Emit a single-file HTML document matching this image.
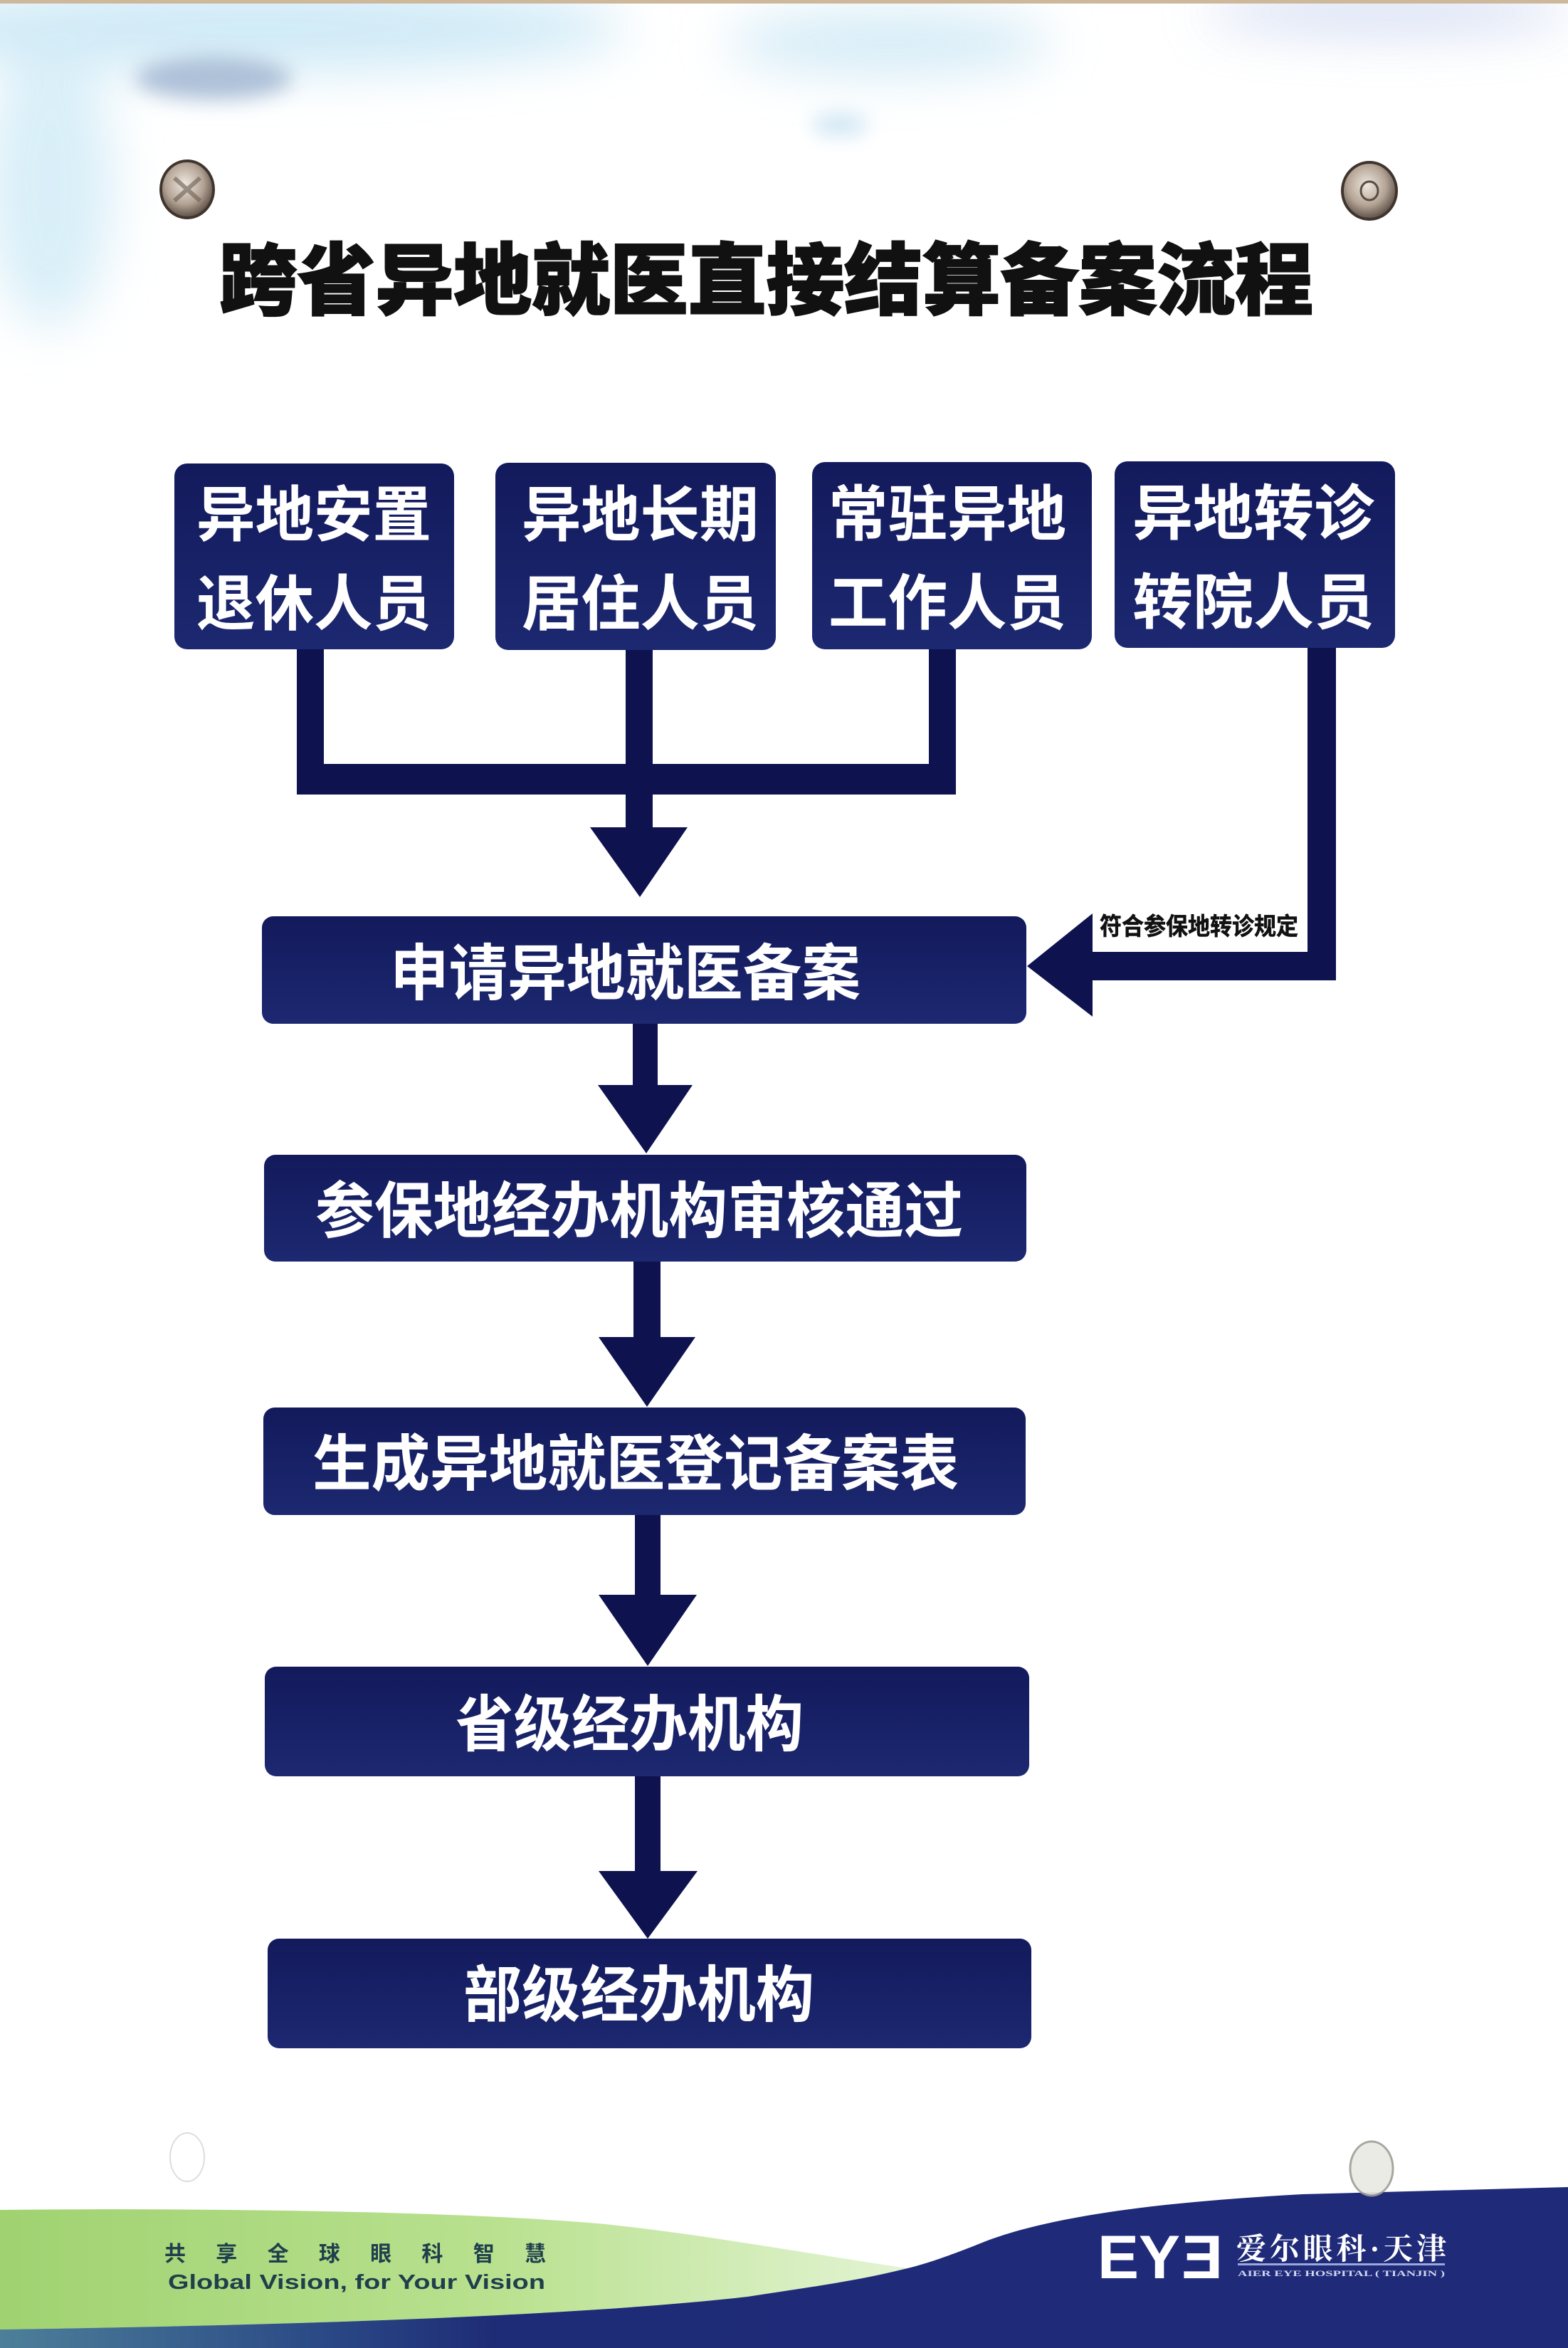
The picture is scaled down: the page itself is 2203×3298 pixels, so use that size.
<!DOCTYPE html>
<html><head><meta charset="utf-8"><style>
html,body{margin:0;padding:0;background:#fff;}
svg{display:block;}
</style></head><body>
<svg width="2203" height="3298" viewBox="0 0 2203 3298" xmlns="http://www.w3.org/2000/svg">
<defs>
  <filter id="bb" x="-50%" y="-50%" width="200%" height="200%"><feGaussianBlur stdDeviation="35"/></filter>
  <filter id="bs" x="-50%" y="-50%" width="200%" height="200%"><feGaussianBlur stdDeviation="14"/></filter>
  <linearGradient id="boxg" x1="0" y1="0" x2="0" y2="1">
    <stop offset="0" stop-color="#131a5c"/><stop offset="1" stop-color="#1c2870"/>
  </linearGradient>
  <linearGradient id="greeng" x1="0" y1="0" x2="1" y2="0">
    <stop offset="0" stop-color="#a0d271"/><stop offset="0.55" stop-color="#b9e18f"/><stop offset="1" stop-color="#e3f4d3"/>
  </linearGradient>
  <linearGradient id="navyg" x1="0" y1="0" x2="1" y2="0">
    <stop offset="0" stop-color="#4d7f99"/><stop offset="0.35" stop-color="#2b4a86"/><stop offset="0.55" stop-color="#1e2b76"/><stop offset="1" stop-color="#1f2b78"/>
  </linearGradient>
  <radialGradient id="screw" cx="0.45" cy="0.4" r="0.6">
    <stop offset="0" stop-color="#efe7de"/><stop offset="0.6" stop-color="#b3a395"/><stop offset="1" stop-color="#5b4e44"/>
  </radialGradient>
</defs>

<!-- background smudges -->
<rect x="0" y="0" width="2203" height="3298" fill="#ffffff"/>
<g filter="url(#bb)" opacity="0.85">
  <ellipse cx="360" cy="40" rx="520" ry="60" fill="#c6e6f5"/>
  <ellipse cx="1250" cy="60" rx="230" ry="45" fill="#cde8f5"/>
  <ellipse cx="70" cy="260" rx="90" ry="200" fill="#d3ecf7"/>
  <ellipse cx="1950" cy="18" rx="260" ry="28" fill="#cad6f0"/>
</g>
<g filter="url(#bs)" opacity="0.8">
  <ellipse cx="300" cy="110" rx="110" ry="30" fill="#9db2cf"/>
  <ellipse cx="1180" cy="175" rx="40" ry="14" fill="#bcdcf0"/>
</g>
<rect x="0" y="0" width="2203" height="5" fill="#cdb89b"/>

<!-- screws -->
<g>
  <ellipse cx="263" cy="266" rx="37" ry="40" fill="url(#screw)" stroke="#3f352e" stroke-width="4"/>
  <path d="M245 250 L281 282 M281 250 L245 282" stroke="#6b5c50" stroke-width="6" opacity="0.6"/>
  <ellipse cx="1924" cy="268" rx="38" ry="40" fill="url(#screw)" stroke="#3f352e" stroke-width="4"/>
  <ellipse cx="1924" cy="268" rx="12" ry="13" fill="none" stroke="#5a4d43" stroke-width="3"/>
</g>

<!-- title -->
<text x="308" y="433" textLength="1537" lengthAdjust="spacingAndGlyphs" font-size="110" font-weight="900" fill="#111" stroke="#111" stroke-width="2" font-family="'Liberation Sans','Noto Sans CJK SC',sans-serif">跨省异地就医直接结算备案流程</text>

<!-- connectors top -->
<g fill="#0e1350">
  <rect x="417" y="900" width="38" height="216"/>
  <rect x="879" y="900" width="38" height="262"/>
  <rect x="1305" y="900" width="38" height="216"/>
  <rect x="417" y="1073" width="926" height="43"/>
  <polygon points="829,1162 966,1162 899,1260"/>
  <rect x="1837" y="900" width="40" height="477"/>
  <rect x="1530" y="1337" width="347" height="40"/>
  <polygon points="1443,1357 1535,1283 1535,1428"/>
  <!-- down arrows -->
  <rect x="889" y="1430" width="35" height="96"/>
  <polygon points="840,1524 973,1524 908,1620"/>
  <rect x="890" y="1765" width="38" height="115"/>
  <polygon points="841,1878 977,1878 909,1976"/>
  <rect x="892" y="2120" width="36" height="122"/>
  <polygon points="841,2240 979,2240 910,2340"/>
  <rect x="892" y="2488" width="36" height="142"/>
  <polygon points="841,2628 980,2628 910,2723"/>
</g>

<!-- top boxes -->
<g fill="url(#boxg)">
  <rect x="245" y="651" width="393" height="261" rx="18"/>
  <rect x="696" y="650" width="394" height="263" rx="18"/>
  <rect x="1141" y="649" width="393" height="263" rx="18"/>
  <rect x="1566" y="648" width="394" height="262" rx="18"/>
</g>
<g fill="#ffffff" font-size="85" font-weight="700" font-family="'Liberation Sans','Noto Sans CJK SC',sans-serif">
  <text x="276" y="753" textLength="330" lengthAdjust="spacingAndGlyphs">异地安置</text>
  <text x="276" y="878" textLength="330" lengthAdjust="spacingAndGlyphs">退休人员</text>
  <text x="733" y="753" textLength="333" lengthAdjust="spacingAndGlyphs">异地长期</text>
  <text x="733" y="878" textLength="333" lengthAdjust="spacingAndGlyphs">居住人员</text>
  <text x="1164" y="752" textLength="334" lengthAdjust="spacingAndGlyphs">常驻异地</text>
  <text x="1164" y="877" textLength="334" lengthAdjust="spacingAndGlyphs">工作人员</text>
  <text x="1591" y="751" textLength="340" lengthAdjust="spacingAndGlyphs">异地转诊</text>
  <text x="1591" y="876" textLength="340" lengthAdjust="spacingAndGlyphs">转院人员</text>
</g>

<!-- side label -->
<text x="1545" y="1313" textLength="279" lengthAdjust="spacingAndGlyphs" font-size="34" font-weight="700" fill="#111" stroke="#111" stroke-width="0.6" font-family="'Liberation Sans','Noto Sans CJK SC',sans-serif">符合参保地转诊规定</text>

<!-- main boxes -->
<g fill="url(#boxg)">
  <rect x="368" y="1287" width="1074" height="151" rx="16"/>
  <rect x="371" y="1622" width="1071" height="150" rx="16"/>
  <rect x="370" y="1977" width="1071" height="151" rx="16"/>
  <rect x="372" y="2341" width="1074" height="154" rx="16"/>
  <rect x="376" y="2723" width="1073" height="154" rx="16"/>
</g>
<g fill="#ffffff" font-size="86" font-weight="700" font-family="'Liberation Sans','Noto Sans CJK SC',sans-serif">
  <text x="548" y="1397" textLength="661" lengthAdjust="spacingAndGlyphs">申请异地就医备案</text>
  <text x="443" y="1731" textLength="910" lengthAdjust="spacingAndGlyphs">参保地经办机构审核通过</text>
  <text x="439" y="2086" textLength="908" lengthAdjust="spacingAndGlyphs">生成异地就医登记备案表</text>
  <text x="640" y="2452" textLength="489" lengthAdjust="spacingAndGlyphs">省级经办机构</text>
  <text x="651" y="2832" textLength="493" lengthAdjust="spacingAndGlyphs">部级经办机构</text>
</g>

<!-- footer -->
<path d="M0 3104 C300 3101 650 3106 850 3124 C1000 3140 1150 3168 1275 3186 C1200 3205 1120 3215 1050 3226 C800 3254 400 3266 0 3272 Z" fill="url(#greeng)"/>
<path d="M2203 3072 L1830 3082 C1650 3092 1480 3110 1380 3150 C1330 3170 1300 3180 1275 3186 L1275 3298 L2203 3298 Z" fill="#1f2b78"/>
<path d="M1275 3186 C1200 3205 1120 3215 1050 3226 C800 3254 400 3266 0 3272 L0 3298 L1275 3298 Z" fill="url(#navyg)"/>

<text x="231" y="3176" textLength="536" font-size="30" font-weight="700" fill="#1f3f4c" font-family="'Liberation Sans','Noto Sans CJK SC',sans-serif">共享全球眼科智慧</text>
<text x="236" y="3215" textLength="530" lengthAdjust="spacingAndGlyphs" font-size="29" font-weight="700" fill="#1f3f4c" font-family="'Liberation Sans Narrow','Liberation Sans',sans-serif">Global Vision,  for Your Vision</text>

<text x="1542" y="3200" textLength="116" lengthAdjust="spacingAndGlyphs" font-size="86" font-weight="700" fill="#ffffff" font-family="'Liberation Sans',sans-serif">EY</text>
<text x="1654" y="3200" transform="translate(3372,0) scale(-1,1)" textLength="58" lengthAdjust="spacingAndGlyphs" font-size="86" font-weight="700" fill="#ffffff" font-family="'Liberation Sans',sans-serif">E</text>
<text x="1737" y="3173" textLength="295" font-size="42" font-weight="700" fill="#ffffff" font-family="'Liberation Serif','Noto Serif CJK SC',serif">爱尔眼科·天津</text>
<rect x="1739" y="3179" width="291" height="3" fill="#9aa8dc"/>
<text x="1739" y="3197" textLength="291" lengthAdjust="spacingAndGlyphs" font-size="12" font-weight="700" fill="#d0d6f2" font-family="'Liberation Serif',serif">AIER EYE HOSPITAL ( TIANJIN )</text>

<!-- bottom screws -->
<ellipse cx="1927" cy="3046" rx="30" ry="38" fill="#e9e9e4" stroke="#a09d96" stroke-width="3" opacity="0.9"/>
<ellipse cx="263" cy="3030" rx="24" ry="34" fill="none" stroke="#d8d4d0" stroke-width="2" opacity="0.8"/>
</svg>
</body></html>
